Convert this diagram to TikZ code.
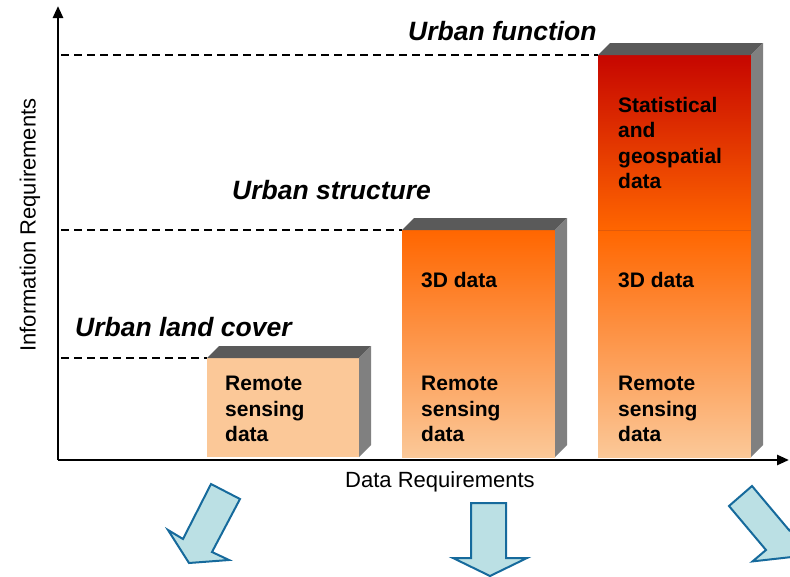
\documentclass[tikz,border=0pt]{standalone}
\usepackage{fontspec}
\setmainfont{Liberation Sans}
\usetikzlibrary{arrows.meta}
\definecolor{peach}{RGB}{251,200,152}
\definecolor{orng}{RGB}{255,102,0}
\definecolor{dred}{RGB}{198,6,0}
\definecolor{divline}{RGB}{225,90,10}
\definecolor{topg}{RGB}{90,90,90}
\definecolor{sideg}{RGB}{128,128,128}
\definecolor{arrfill}{RGB}{187,224,228}
\definecolor{arredge}{RGB}{22,106,156}
\newcommand\boxsides[4]{% x0,x1,top,bottom
  \fill[topg] (#1,#3) -- (#1+12,#3-12) -- (#2+12,#3-12) -- (#2,#3) -- cycle;
  \fill[sideg] (#2,#3) -- (#2+12,#3-12) -- (#2+12,#4-12) -- (#2,#4) -- cycle;
}
\tikzset{
  boxtxt/.style={font=\fontsize{21}{25.5}\selectfont\bfseries, align=left, anchor=west, inner sep=0pt},
  cattxt/.style={font=\fontsize{26.5}{30}\selectfont\bfseries\itshape, anchor=west, inner sep=0pt},
  axtxt/.style={font=\fontsize{22}{26}\selectfont, inner sep=0pt},
  guide/.style={dashed, line width=1.4pt, dash pattern=on 8pt off 5pt},
  bigarrow/.style={fill=arrfill, draw=arredge, line width=2pt, line join=miter},
  axis/.style={line width=2.6pt, -{Triangle[length=12pt,width=10pt]}}
}
\begin{document}
\begin{tikzpicture}[x=1pt,y=-1pt]
\useasboundingbox (0,0) rectangle (790,576);
% axes
\coordinate (O) at (58,460);
\coordinate (ytip) at (58,6);
\coordinate (xtip) at (789,460);
\draw[axis] (O) -- (ytip);
\draw[axis] (O) -- (xtip);
% boxes
\coordinate (b1tl) at (207,358);
\coordinate (b2tl) at (402,230);
\coordinate (b3tl) at (598,55);
% box 1
\fill[peach] (207,358) rectangle (359,457);
\boxsides{207}{359}{358}{457}
% box 2
\shade[top color=orng, bottom color=peach] (402,230) rectangle (555,457);
\boxsides{402}{555}{230}{457}
% box 3
\shade[top color=orng, bottom color=peach] (598,230) rectangle (751,457);
\shade[top color=dred, bottom color=orng] (598,55) rectangle (751,231);
\draw[divline, line width=0.8pt] (598,230) -- (751,230);
\boxsides{598}{751}{55}{457}
% guides
\coordinate (g1) at (61,358);
\coordinate (g2) at (61,230);
\coordinate (g3) at (61,55);
\draw[guide] (g1) -- (b1tl);
\draw[guide] (g2) -- (b2tl);
\draw[guide] (g3) -- (b3tl);
% category labels
\node[cattxt] (c1) at (75,327) {Urban land cover};
\node[cattxt] (c2) at (232,190) {Urban structure};
\node[cattxt] (c3) at (408,31) {Urban function};
% box texts
\node[boxtxt] (t1) at (225,409) {Remote\\sensing\\data};
\node[boxtxt] (t2a) at (421,280) {3D data};
\node[boxtxt] (t2b) at (421,409) {Remote\\sensing\\data};
\node[boxtxt] (t3a) at (618,143) {Statistical\\and\\geospatial\\data};
\node[boxtxt] (t3b) at (618,280) {3D data};
\node[boxtxt] (t3c) at (618,409) {Remote\\sensing\\data};
% axis labels
\node[axtxt] (xl) at (440,482) {Data Requirements};
\node[axtxt, rotate=90] (yl) at (30,225) {Information Requirements};
% big arrows
\begin{scope}
\clip (0,0) rectangle (790,576);
\draw[bigarrow] (211,484) -- (240,499) -- (212,552) -- (229,560) -- (189,563) -- (168,530) -- (183,539) -- cycle;
\draw[bigarrow] (471,503) -- (506,503) -- (506,558) -- (527,558) -- (490,576) -- (453,558) -- (471,558) -- cycle;
\draw[bigarrow] (752,486) -- (789.3,530.4) -- (803,519) -- (791.8,557) -- (752.5,561.4) -- (766,550) -- (729,506) -- cycle;
\end{scope}
\end{tikzpicture}
\end{document}
